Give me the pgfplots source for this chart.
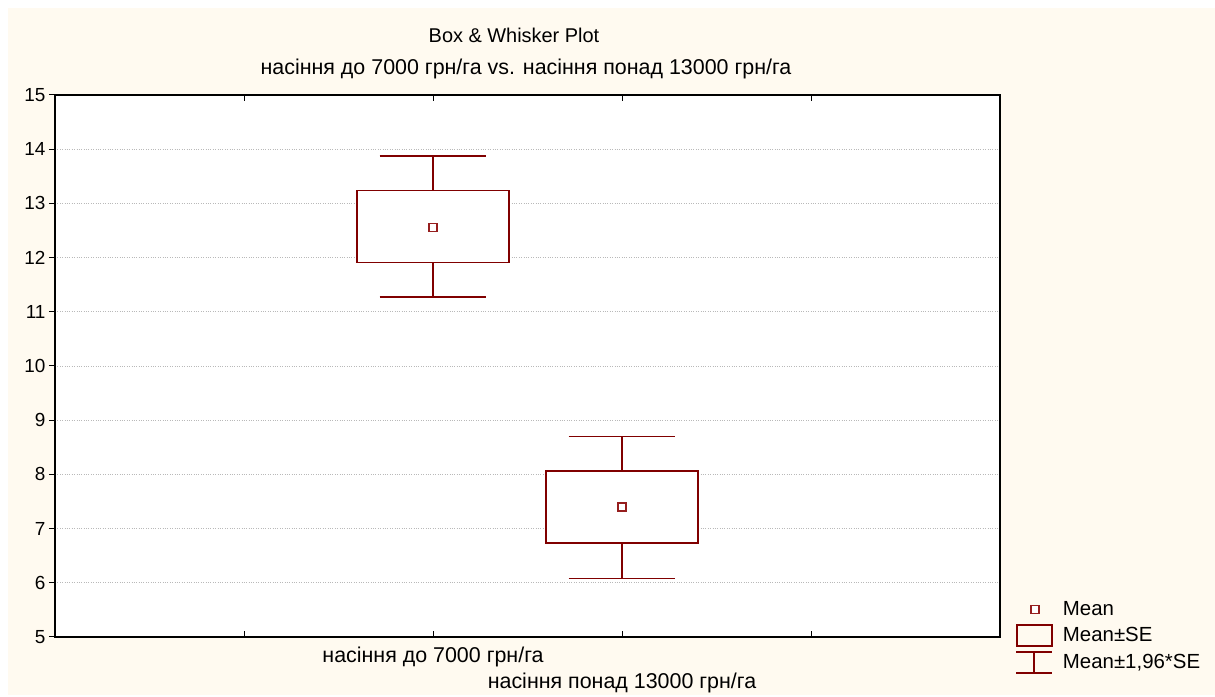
\documentclass[border=0pt]{standalone}
\usepackage{pgfplots}
\pgfplotsset{compat=1.18}
\usepackage{fontspec}
\setmainfont{Liberation Sans}
\definecolor{bg}{RGB}{255,250,240}
\definecolor{dr}{RGB}{128,0,0}
\definecolor{mk}{RGB}{150,30,30}
\definecolor{gridc}{RGB}{185,185,185}
\begin{document}
\begin{tikzpicture}[x=1bp,y=1bp]
  \fill[white] (0,0) rectangle (1215,695);
  \fill[bg] (8,0) rectangle (1215,687);
  % titles
  \node[anchor=base, font=\fontsize{20}{24}\selectfont] at (514,652) {Box \& Whisker Plot};
  \node[anchor=base, font=\fontsize{21.5}{25}\selectfont] at (526,620) {насіння до 7000 грн/га vs. насіння понад 13000 грн/га};
  \begin{axis}[
    at={(55bp,58bp)}, anchor=south west,
    scale only axis, width=945bp, height=542bp,
    xmin=0, xmax=5, ymin=5, ymax=15,
    xtick={1,2,3,4}, xticklabels={},
    ytick={5,6,...,15},
    ymajorgrids, grid style={gridc, dotted, line width=0.8bp},
    axis line style={line width=1.8bp},
    axis background/.style={fill=white},
    xtick align=inside, ytick align=outside, ytick pos=left,
    major tick length=6bp,
    tick style={black, line width=1bp},
    yticklabel style={font=\fontsize{19}{22}\selectfont},
    /pgf/number format/assume math mode=true,
    clip=false,
    legend cell align=left,
    legend style={at={(1.0159,0.072)}, anchor=north west, draw=none, fill=none,
      inner sep=0pt, row sep=4bp, font=\fontsize{20.5}{24}\selectfont,
      nodes={inner sep=0pt}, column sep=10bp},
  ]
    \addlegendimage{legend image code/.code={
      \path[draw=none, fill=none] (0bp,-11bp) rectangle (36bp,11bp);
      \draw[mk, fill=white, line width=1.2bp] (15bp,-4bp) rectangle (23bp,4bp);}}
    \addlegendentry{Mean}
    \addlegendimage{legend image code/.code={
      \path[draw=none, fill=none] (0bp,-11bp) rectangle (36bp,11bp);
      \draw[dr, line width=1.7bp] (1bp,-10.5bp) rectangle (36bp,10.5bp);}}
    \addlegendentry{Mean±SE}
    \addlegendimage{legend image code/.code={
      \path[draw=none, fill=none] (0bp,-11bp) rectangle (36bp,11bp);
      \draw[dr, line width=1.7bp] (0bp,10.5bp) -- (36bp,10.5bp)
        (18bp,10.5bp) -- (18bp,-10.5bp) (0bp,-10.5bp) -- (36bp,-10.5bp);}}
    \addlegendentry{Mean±1,96*SE}

    % group 1: насіння до 7000 грн/га
    \addplot[forget plot, dr, line width=1.7bp] coordinates {(2,13.24)(2,13.88)};
    \addplot[forget plot, dr, line width=1.7bp] coordinates {(1.717,13.88)(2.283,13.88)};
    \addplot[forget plot, dr, line width=1.7bp] coordinates {(2,11.91)(2,11.27)};
    \addplot[forget plot, dr, line width=1.7bp] coordinates {(1.717,11.27)(2.283,11.27)};
    \addplot[forget plot, dr, line width=1.7bp, fill=white] coordinates
      {(1.598,11.91)(2.402,11.91)(2.402,13.24)(1.598,13.24)} -- cycle;
    \addplot[forget plot, only marks, color=mk, mark=square, mark size=4bp,
      mark options={solid, draw=mk, fill=white, line width=1.2bp}] coordinates {(2,12.56)};

    % group 2: насіння понад 13000 грн/га
    \addplot[forget plot, dr, line width=1.7bp] coordinates {(3,8.06)(3,8.70)};
    \addplot[forget plot, dr, line width=1.7bp] coordinates {(2.717,8.70)(3.283,8.70)};
    \addplot[forget plot, dr, line width=1.7bp] coordinates {(3,6.73)(3,6.08)};
    \addplot[forget plot, dr, line width=1.7bp] coordinates {(2.717,6.08)(3.283,6.08)};
    \addplot[forget plot, dr, line width=1.7bp, fill=white] coordinates
      {(2.598,6.73)(3.402,6.73)(3.402,8.06)(2.598,8.06)} -- cycle;
    \addplot[forget plot, only marks, color=mk, mark=square, mark size=4bp,
      mark options={solid, draw=mk, fill=white, line width=1.2bp}] coordinates {(3,7.40)};
  \end{axis}
  % category labels (staggered)
  \node[anchor=base, font=\fontsize{21.5}{25}\selectfont] at (433,32) {насіння до 7000 грн/га};
  \node[anchor=base, font=\fontsize{21.5}{25}\selectfont] at (622,6) {насіння понад 13000 грн/га};
\end{tikzpicture}
\end{document}
